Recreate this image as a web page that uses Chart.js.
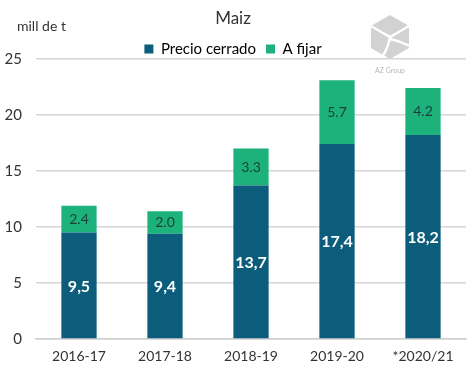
<!DOCTYPE html>
<html>
<head>
<meta charset="utf-8">
<script src="https://cdn.jsdelivr.net/npm/chart.js@4"></script>
<style>
  html, body { margin: 0; padding: 0; background: #fff; }
  #wrap { width: 474px; height: 381px; }
</style>
</head>
<body>
<div id="wrap"><canvas id="c" width="474" height="381"></canvas></div>
<script>
const categories = ['2016-17', '2017-18', '2018-19', '2019-20', '*2020/21'];
const precioCerrado = [9.5, 9.4, 13.7, 17.4, 18.2];
const aFijar = [2.4, 2.0, 3.3, 5.7, 4.2];
const yTicks = [0, 5, 10, 15, 20, 25];

const FONT = 'Lato, "Open Sans", sans-serif';
const DARK = '#0b5d7b';
const GREEN = '#1db27b';

const labelPlugin = {
  id: 'segLabels',
  afterDatasetsDraw(chart) {
    const ctx = chart.ctx;
    ctx.save();
    ctx.textAlign = 'center';
    ctx.textBaseline = 'middle';
    chart.data.datasets.forEach((ds, di) => {
      const meta = chart.getDatasetMeta(di);
      meta.data.forEach((bar, i) => {
        const v = ds.data[i];
        const yc = (bar.y + bar.base) / 2;
        if (di === 0) {
          ctx.fillStyle = '#ffffff';
          ctx.font = 'bold 16px ' + FONT;
          ctx.fillText(v.toFixed(1).replace('.', ','), bar.x, yc + 1);
        } else {
          ctx.fillStyle = '#1c3f3c';
          ctx.font = '14px ' + FONT;
          ctx.fillText(v.toFixed(1), bar.x, yc);
        }
      });
    });
    ctx.restore();
  }
};

// tighten the space below the legend
const legendFitPlugin = {
  id: 'legendFit',
  beforeUpdate(chart) {
    const lg = chart.legend;
    if (lg && !lg._fitWrapped) {
      const orig = lg.fit.bind(lg);
      lg.fit = function () { orig(); this.height -= 7.5; };
      lg._fitWrapped = true;
    }
  }
};

const decoPlugin = {
  id: 'deco',
  afterDraw(chart) {
    const ctx = chart.ctx;
    ctx.save();
    ctx.fillStyle = '#333';
    ctx.font = '14px ' + FONT;
    ctx.textAlign = 'left';
    ctx.textBaseline = 'middle';
    ctx.fillText('mill de t', 17, 26);
    // logo
    const cx = 390, cy = 37, r = 22;
    ctx.beginPath();
    for (let k = 0; k < 6; k++) {
      const a = Math.PI / 6 + k * Math.PI / 3;
      const px = cx + r * Math.cos(a), py = cy + r * Math.sin(a);
      if (k === 0) ctx.moveTo(px, py); else ctx.lineTo(px, py);
    }
    ctx.closePath();
    ctx.fillStyle = '#d2d2d2';
    ctx.fill();
    ctx.strokeStyle = '#ffffff';
    ctx.lineWidth = 2.5;
    ctx.beginPath();
    ctx.moveTo(cx - r * 0.87, cy - r * 0.5);
    ctx.lineTo(cx, cy);
    ctx.lineTo(cx + r * 0.87, cy - r * 0.5);
    ctx.moveTo(cx, cy);
    ctx.quadraticCurveTo(cx - 2, cy + 12, cx - 8, cy + r * 0.9);
    ctx.moveTo(cx, cy + 2);
    ctx.quadraticCurveTo(cx + 10, cy + 4, cx + r * 0.87, cy + r * 0.4);
    ctx.stroke();
    ctx.fillStyle = '#b8b8b8';
    ctx.font = '7px ' + FONT;
    ctx.textAlign = 'center';
    ctx.fillText('AZ Group', cx, 71);
    ctx.restore();
  }
};

new Chart(document.getElementById('c'), {
  type: 'bar',
  data: {
    labels: categories,
    datasets: [
      { label: 'Precio cerrado', data: precioCerrado, backgroundColor: DARK, borderWidth: 0,
        barPercentage: 0.41, categoryPercentage: 1 },
      { label: 'A fijar', data: aFijar, backgroundColor: GREEN, borderWidth: 0,
        barPercentage: 0.41, categoryPercentage: 1 }
    ]
  },
  options: {
    responsive: false,
    animation: false,
    devicePixelRatio: 1,
    layout: { padding: { left: 0, right: 8, top: 0, bottom: 0 } },
    plugins: {
      title: {
        display: true,
        text: 'Maiz',
        color: '#333',
        font: { family: FONT, size: 17, weight: 'normal' },
        padding: { top: 8, bottom: 3 }
      },
      legend: {
        display: true,
        position: 'top',
        labels: {
          color: '#333',
          font: { family: FONT, size: 15 },
          boxWidth: 9,
          boxHeight: 9,
          padding: 10,
          generateLabels(chart) {
            return chart.data.datasets.map((d, i) => ({
              text: d.label, fillStyle: d.backgroundColor, strokeStyle: d.backgroundColor,
              lineWidth: 0, hidden: false, datasetIndex: i
            }));
          }
        }
      },
      tooltip: { enabled: false }
    },
    scales: {
      x: {
        stacked: true,
        grid: { display: false, drawTicks: false },
        border: { display: true, color: '#cfcfcf', width: 1.5 },
        ticks: { color: '#333', font: { family: FONT, size: 14 }, padding: 9, maxRotation: 0 },
        afterFit(s) { s.height = 42; }
      },
      y: {
        stacked: true,
        min: 0, max: 25,
        grid: { color: '#d6d6d6', lineWidth: 1.5, drawTicks: false },
        border: { display: false },
        ticks: {
          color: '#333', font: { family: FONT, size: 15 }, padding: 14, stepSize: 5,
          callback: (v) => yTicks.includes(v) ? String(v) : ''
        },
        afterFit(s) { s.width = 36; }
      }
    }
  },
  plugins: [labelPlugin, legendFitPlugin, decoPlugin]
});
</script>
</body>
</html>
